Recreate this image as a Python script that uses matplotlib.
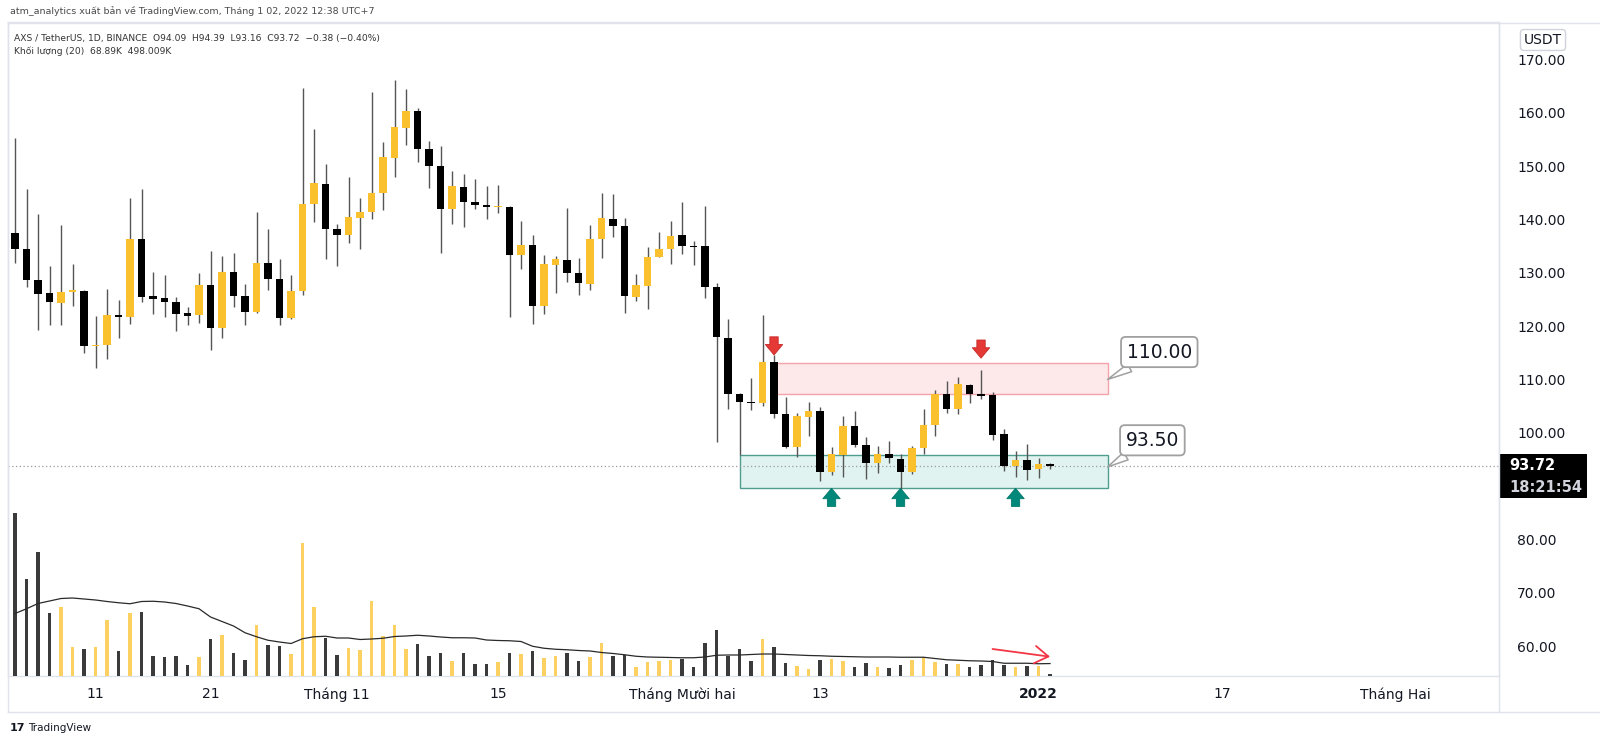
import matplotlib
matplotlib.use('Agg')
import matplotlib.pyplot as plt
from matplotlib.patches import Rectangle
from matplotlib.lines import Line2D

plt.rcParams['font.family'] = ['DejaVu Sans']

# Nến ngày AXS/USDT (04/10/2021 -> 02/01/2022)
opens = [137.4, 134.5, 128.7, 126.2, 124.3, 126.4, 126.6, 116.2, 116.5, 122.1,
         121.8, 136.3, 125.7, 125.2, 124.5, 122.4, 122.0, 127.7, 119.7, 130.2,
         125.7, 122.7, 131.8, 128.9, 121.5, 126.5, 143.0, 146.7, 138.2, 137.0,
         140.3, 141.4, 145.0, 151.5, 157.2, 160.3, 153.3, 150.0, 142.0, 146.1,
         143.3, 142.8, 142.3, 142.4, 133.3, 135.2, 123.7, 131.5, 132.4, 129.9,
         127.9, 136.3, 140.1, 138.8, 125.5, 127.6, 133.0, 134.5, 137.1, 135.0,
         135.0, 127.3, 117.8, 107.3, 105.7, 105.5, 113.3, 103.6, 97.4, 103.0,
         104.1, 92.7, 95.8, 101.3, 97.8, 94.4, 96.1, 95.1, 92.6, 97.2,
         101.4, 107.3, 104.5, 109.0, 107.2, 107.1, 99.7, 93.7, 94.9, 93.2, 94.09]
highs = [155.2, 145.8, 141.0, 131.3, 139.0, 131.6, 126.8, 121.9, 127.0, 124.9,
         144.0, 145.7, 130.2, 129.6, 125.4, 123.5, 130.0, 134.0, 133.2, 133.8,
         127.9, 141.4, 138.3, 132.6, 129.5, 164.6, 157.0, 150.5, 139.2, 148.0,
         144.0, 164.0, 154.5, 166.2, 164.5, 160.9, 154.7, 153.8, 149.1, 148.5,
         147.6, 146.2, 146.5, 142.6, 139.8, 137.0, 133.3, 133.2, 142.1, 132.7,
         139.0, 145.0, 144.8, 140.2, 129.7, 134.8, 137.7, 139.8, 143.2, 136.0,
         142.5, 128.0, 121.3, 107.5, 110.3, 122.0, 114.6, 106.8, 103.8, 105.8,
         104.8, 97.4, 103.2, 104.0, 99.2, 97.5, 98.5, 96.1, 97.6, 104.5,
         108.0, 109.7, 110.4, 109.2, 111.7, 107.7, 100.7, 96.6, 97.9, 95.2, 94.39]
lows = [131.9, 127.3, 119.3, 120.2, 120.2, 123.7, 115.0, 112.2, 113.9, 117.7,
        120.4, 124.5, 122.2, 121.7, 119.1, 120.2, 120.5, 115.6, 117.8, 123.5,
        120.2, 122.4, 126.7, 120.2, 121.4, 125.8, 139.6, 132.5, 131.2, 135.5,
        134.5, 140.0, 141.8, 148.0, 153.9, 150.7, 146.0, 133.8, 139.2, 138.6,
        142.0, 140.0, 141.2, 121.8, 130.7, 120.4, 122.2, 126.3, 128.3, 125.9,
        126.8, 132.7, 136.8, 122.5, 124.7, 123.2, 132.9, 131.7, 133.5, 131.5,
        125.2, 98.3, 104.4, 95.8, 104.3, 105.0, 102.7, 97.2, 95.5, 99.4,
        91.0, 92.0, 91.8, 97.4, 91.3, 92.5, 94.4, 89.5, 92.2, 96.0,
        99.4, 103.7, 103.5, 105.5, 106.3, 98.7, 92.9, 91.8, 91.2, 91.5, 93.16]
closes = [134.5, 128.7, 126.1, 124.5, 126.4, 126.6, 116.2, 116.5, 122.1, 121.7,
          136.3, 125.5, 125.0, 124.5, 122.3, 121.9, 127.7, 119.7, 130.2, 125.7,
          122.7, 131.8, 128.9, 121.5, 126.5, 143.0, 146.9, 138.2, 137.0, 140.5,
          141.4, 145.0, 151.7, 157.3, 160.3, 153.3, 150.0, 142.0, 146.3, 143.3,
          142.7, 142.3, 142.5, 133.3, 135.3, 123.7, 131.6, 132.5, 129.9, 128.1,
          136.3, 140.3, 138.7, 125.7, 127.7, 133.0, 134.5, 136.9, 135.0, 134.8,
          127.4, 118.0, 107.3, 105.7, 105.5, 113.3, 103.6, 97.4, 103.2, 104.1,
          92.7, 96.1, 101.3, 97.8, 94.4, 96.1, 95.3, 92.6, 97.2, 101.4,
          107.3, 104.5, 109.2, 107.3, 106.9, 99.6, 93.7, 94.9, 93.0, 94.2, 93.72]
# Khối lượng (nghìn) và đường trung bình 20 phiên
volumes = [6530, 3870, 4960, 2530, 2760, 1160, 1080, 1160, 2240, 1000,
           2520, 2570, 810, 760, 810, 450, 770, 1490, 1640, 930,
           630, 2050, 1250, 1190, 880, 5310, 2760, 1530, 840, 1120,
           1040, 3000, 1600, 2030, 1090, 1280, 810, 930, 600, 930,
           480, 480, 560, 910, 880, 1000, 720, 800, 910, 590,
           760, 1330, 800, 830, 370, 560, 600, 630, 680, 370,
           1320, 1840, 800, 1080, 600, 1490, 1180, 520, 390, 280,
           650, 690, 600, 370, 520, 350, 310, 440, 650, 750,
           560, 480, 480, 350, 440, 630, 440, 350, 400, 400, 68.89]
vol_ma = [2500, 2690, 2900, 3000, 3100, 3120, 3080, 3040, 2980, 2930,
          2890, 2980, 2990, 2960, 2900, 2800, 2690, 2360, 2180, 2000,
          1730, 1570, 1430, 1360, 1300, 1490, 1570, 1590, 1520, 1520,
          1460, 1480, 1510, 1580, 1600, 1630, 1600, 1560, 1530, 1530,
          1520, 1440, 1420, 1410, 1380, 1190, 1110, 1070, 1050, 1020,
          1000, 940, 900, 850, 790, 760, 750, 740, 730, 730,
          760, 830, 840, 840, 860, 880, 880, 860, 840, 820,
          810, 790, 780, 770, 760, 760, 760, 750, 750, 750,
          700, 650, 630, 610, 600, 580, 510, 510, 510, 490, 498.009]

tick_pos = [7, 17, 28, 42, 58, 70, 89, 105, 120]
tick_labels = ['11', '21', 'Tháng 11', '15', 'Tháng Mười hai', '13', '2022', '17', 'Tháng Hai']
price_ticks = [60, 70, 80, 100, 110, 120, 130, 140, 150, 160, 170]

# vùng cung / cầu và các mũi tên đánh dấu
supply_zone = (66.1, 95.0, 107.2, 113.15)
demand_zone = (63.0, 95.0, 89.6, 95.85)
sell_marks = [(66, 114.6), (84, 114.0)]
buy_marks = [(71, 89.6), (77, 89.6), (87, 89.6)]
last_price = 93.72

UP = '#fbc02d'
DOWN = '#000000'
LINE = '#e0e3eb'
W, H = 1600, 744


def fx(px):
    return px / W


def fy(py):
    return 1 - py / H


fig = plt.figure(figsize=(16, 7.44), dpi=100)
fig.patch.set_facecolor('white')
ax = fig.add_axes([fx(8), fy(676), (1499 - 8) / W, (676 - 22.5) / H])
ax.set_xlim(-0.61, 129.04)
ax.set_ylim(54.4, 176.94)

x = list(range(len(opens)))
cols = [UP if c >= o else DOWN for o, c in zip(opens, closes)]
bottoms = [min(o, c) for o, c in zip(opens, closes)]
heights = [max(abs(c - o), 0.3) for o, c in zip(opens, closes)]

# vùng
sx0, sx1, sy0, sy1 = supply_zone
ax.add_patch(Rectangle((sx0, sy0), sx1 - sx0, sy1 - sy0, fc='#fde8ea', ec='#f4a3aa', lw=1, zorder=1))
dx0, dx1, dy0, dy1 = demand_zone
ax.add_patch(Rectangle((dx0, dy0), dx1 - dx0, dy1 - dy0, fc='#e0f3f0', ec='#4f9d8f', lw=1, zorder=1))

ax.axhline(last_price, color='#9a9a9a', ls=(0, (1, 2)), lw=0.9, zorder=1.5)

# nến
ax.vlines(x, lows, highs, color='#555555', lw=1, zorder=2)
ax.bar(x, heights, width=0.64, bottom=bottoms, color=cols, lw=0, zorder=3)

# mũi tên
for xi, yi in sell_marks:
    ax.annotate('', xy=(xi, yi), xytext=(xi, yi + 3.4),
                arrowprops=dict(arrowstyle='simple,head_length=0.75,head_width=1.25,tail_width=0.6',
                                fc='#e53935', ec='#c62828', lw=0.6, shrinkA=0, shrinkB=0,
                                mutation_scale=10), zorder=4)
for xi, yi in buy_marks:
    ax.annotate('', xy=(xi, yi), xytext=(xi, yi - 3.4),
                arrowprops=dict(arrowstyle='simple,head_length=0.75,head_width=1.25,tail_width=0.6',
                                fc='#00897b', ec='#00796b', lw=0.6, shrinkA=0, shrinkB=0,
                                mutation_scale=10), zorder=4)

# nhãn giá
for txt, tip, pos in [('110.00', (sx1, 110.0), (99.5, 115.15)),
                      ('93.50', (dx1, 93.6), (98.9, 98.6))]:
    ax.annotate(txt, xy=tip, xytext=pos, ha='center', va='center', fontsize=13.5, color='#131722',
                bbox=dict(boxstyle='round,pad=0.3,rounding_size=0.25', fc='white', ec='#a0a0a0', lw=1.3),
                arrowprops=dict(arrowstyle='wedge,tail_width=0.45', fc='white', ec='#a0a0a0', lw=1.1,
                                shrinkA=0, shrinkB=0, mutation_scale=14), zorder=5)

# khối lượng
vax = ax.twinx()
vax.set_ylim(0, 26140)
vax.bar(x, volumes, width=0.28, color=['#fdd062' if c == UP else '#3b3b3b' for c in cols], lw=0, zorder=2)
vax.plot(x, vol_ma, color='#2a2a2a', lw=0.9, zorder=3)
vax.annotate('', xy=(90, 772), xytext=(85, 1080),
             arrowprops=dict(arrowstyle='->,head_length=0.7,head_width=0.45', color='#f23645', lw=1.3,
                             shrinkA=0, shrinkB=0, mutation_scale=14))
vax.yaxis.set_visible(False)
for s in vax.spines.values():
    s.set_visible(False)

# trục (sau twinx vì twinx đưa tick về bên trái)
ax.yaxis.tick_right()
ax.set_yticks(price_ticks, ['%.2f' % p for p in price_ticks])
ax.tick_params(axis='y', which='both', left=False, right=False, labelleft=False, labelright=True,
               length=0, pad=13, labelsize=10, labelcolor='#131722')
ax.set_xticks(tick_pos, tick_labels)
ax.tick_params(axis='x', length=0, pad=8, labelsize=10, labelcolor='#131722')
for lab in ax.get_xticklabels():
    if lab.get_text() == '2022':
        lab.set_fontweight('bold')
for s in ax.spines.values():
    s.set_color(LINE)
    s.set_linewidth(1)

# khung
for xs, ys in [([8, 1600], [22.5, 22.5]), ([8, 1600], [712, 712]),
               ([8, 8], [22.5, 712]), ([1499, 1499], [22.5, 712])]:
    fig.add_artist(Line2D([fx(v) for v in xs], [fy(v) for v in ys], color=LINE, lw=1))

# tiêu đề
fig.text(fx(10), fy(11), 'atm_analytics xuất bản về TradingView.com, Tháng 1 02, 2022 12:38 UTC+7',
         fontsize=6.8, color='#4a4a4a', va='center')
fig.text(fx(14), fy(38), 'AXS / TetherUS, 1D, BINANCE  O94.09  H94.39  L93.16  C93.72  −0.38 (−0.40%)',
         fontsize=6.6, color='#333333', va='center')
fig.text(fx(14), fy(51), 'Khối lượng (20)  68.89K  498.009K', fontsize=6.6, color='#333333', va='center')

fig.text(fx(1543), fy(40), 'USDT', ha='center', va='center', fontsize=10, color='#131722',
         bbox=dict(boxstyle='round,pad=0.25', fc='white', ec='#d0d3db', lw=1))

fig.add_artist(Rectangle((fx(1500), fy(498)), 87 / W, 44 / H, transform=fig.transFigure,
                         fc='black', ec='none'))
fig.text(fx(1509), fy(466), '93.72', color='white', fontsize=10.5, fontweight='bold', va='center')
fig.text(fx(1509), fy(488), '18:21:54', color='#d1d4dc', fontsize=10.5, fontweight='bold', va='center')

fig.text(fx(10), fy(728), '17', fontsize=8, fontweight='heavy', color='#131722', va='center')
fig.text(fx(28), fy(728), 'TradingView', fontsize=7.5, color='#131722', va='center')

fig.savefig('out.png', dpi=100)
